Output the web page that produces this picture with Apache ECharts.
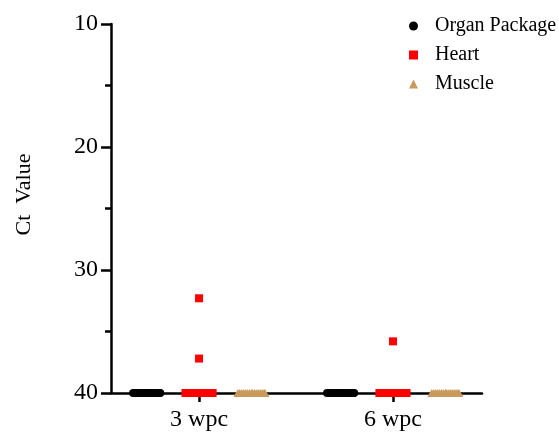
<!DOCTYPE html>
<html>
<head>
<meta charset="utf-8">
<script src="https://cdn.jsdelivr.net/npm/echarts@6/dist/echarts.min.js"></script>
<style>html,body{margin:0;padding:0;background:#fff}#c{width:559px;height:434px}</style>
</head>
<body>
<div id="c"></div>
<script>
// Categories (time points) and series
var categories = ['3 wpc', '6 wpc'];
var seriesNames = ['Organ Package', 'Heart', 'Muscle'];
var seriesColors = ['#000000', '#FF0000', '#C99A5B'];
var seriesSymbols = ['circle', 'rect', 'triangle'];
var yTicks = [10, 20, 30, 40];

// Ct values per group (40 = undetected)
var organ3wpc  = [40,40,40,40,40,40,40,40,40,40,40,40,40,40,40,40];
var organ6wpc  = [40,40,40,40,40,40,40,40,40,40,40,40,40,40,40,40];
var heart3wpc  = [32.3,37.2,40,40,40,40,40,40,40,40,40,40,40,40,40,40,40,40];
var heart6wpc  = [35.8,40,40,40,40,40,40,40,40,40,40,40,40,40,40,40,40];
var muscle3wpc = [40,40,40,40,40,40,40,40,40,40,40,40,40,40,40,40];
var muscle6wpc = [40,40,40,40,40,40,40,40,40,40,40,40,40,40,40,40];

// horizontal jitter (in category units) of the points, as in the scatter-dot plot
var jitter16 = [-0.07,-0.06,-0.05,-0.04,-0.03,-0.02,-0.01,0,0.005,0.015,0.025,0.035,0.045,0.055,0.065,0.07];
var heartJitter3 = [0,0].concat(jitter16);
var heartJitter6 = [0].concat(jitter16);

var groupData = [
  [organ3wpc, organ6wpc],
  [heart3wpc, heart6wpc],
  [muscle3wpc, muscle6wpc]
];
var groupJitter = [
  [jitter16, jitter16],
  [heartJitter3, heartJitter6],
  [jitter16, jitter16]
];
var subOffset = [-0.27, 0, 0.27];

var font = 'Liberation Serif, Times New Roman, serif';

var series = seriesNames.map(function (name, s) {
  var pts = [];
  groupData[s].forEach(function (vals, c) {
    vals.forEach(function (v, i) {
      pts.push([c + 1 + subOffset[s] + groupJitter[s][c][i], v]);
    });
  });
  return {
    name: name,
    type: 'scatter',
    data: pts,
    symbol: seriesSymbols[s],
    symbolSize: s === 2 ? [9, 8] : 8,
    itemStyle: { color: seriesColors[s], opacity: 1 },
    emphasis: { disabled: true },
    z: 3
  };
});

var chart = echarts.init(document.getElementById('c'), null, { renderer: 'canvas' });
chart.setOption({
  animation: false,
  backgroundColor: '#ffffff',
  textStyle: { fontFamily: font },
  grid: { left: 111, right: 77, top: 24, bottom: 41, containLabel: false },
  legend: {
    orient: 'vertical',
    left: 404,
    top: 11,
    itemWidth: 9,
    itemHeight: 9,
    itemGap: 9,
    data: seriesNames.map(function (n, i) { return { name: n, icon: seriesSymbols[i] }; }),
    textStyle: { fontFamily: font, fontSize: 20, color: '#000', lineHeight: 20, padding: [0, 0, 0, 12] }
  },
  xAxis: {
    type: 'value',
    min: 0.546,
    max: 2.459,
    splitLine: { show: false },
    axisLine: { show: true, onZero: false, lineStyle: { color: '#000', width: 2.5 } },
    axisTick: { show: true, customValues: [1, 2], length: 9, lineStyle: { color: '#000', width: 2.5 } },
    axisLabel: {
      customValues: [1, 2],
      formatter: function (v) { return categories[Math.round(v) - 1] || ''; },
      fontFamily: font, fontSize: 24, color: '#000', margin: 15
    }
  },
  yAxis: {
    type: 'value',
    inverse: true,
    min: 10,
    max: 40,
    interval: 10,
    name: 'Ct  Value',
    nameLocation: 'middle',
    nameRotate: 90,
    nameGap: 76,
    nameTextStyle: { fontFamily: font, fontSize: 22, color: '#000', padding: [0, 0, 0, 28] },
    splitLine: { show: false },
    axisLine: { show: true, onZero: false, lineStyle: { color: '#000', width: 2.5 } },
    axisTick: { show: true, length: 10, lineStyle: { color: '#000', width: 2.5 } },
    minorTick: { show: true, splitNumber: 2, length: 6, lineStyle: { color: '#000', width: 2.5 } },
    axisLabel: {
      fontFamily: font, fontSize: 24, color: '#000', margin: 13,
      formatter: function (v) { return yTicks.indexOf(v) >= 0 ? String(v) : ''; }
    }
  },
  series: series
});
</script>
</body>
</html>
